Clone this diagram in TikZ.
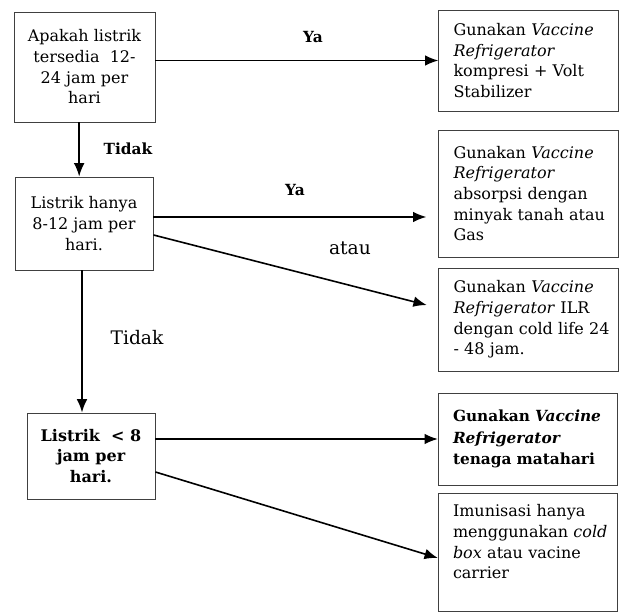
\documentclass[tikz,border=0pt]{standalone}
\usepackage{fontspec}
\setmainfont{DejaVu Serif}
\usetikzlibrary{arrows.meta}

\begin{document}
\begin{tikzpicture}[x=0.75pt,y=-0.75pt,>={Latex[length=10pt,width=8pt]},
        qbox/.style={draw=black!75,line width=0.7pt,align=center,inner sep=0pt,
            font=\fontsize{12}{15.5}\selectfont},
        abox/.style={draw=black!75,line width=0.7pt,align=left,inner ysep=0pt,inner xsep=11pt,
            text width=112.5pt,minimum height=#1,font=\fontsize{12}{15.5}\selectfont},
        arr/.style={->,line width=1.2pt},
        lbl/.style={font=\bfseries\fontsize{11.5}{13}\selectfont},
        lblb/.style={font=\fontsize{14}{16}\selectfont}]
        \useasboundingbox (0,0) rectangle (619,612);
        % pertanyaan
        \node[qbox,minimum width=105.75pt,minimum height=82.5pt] (q1) at (84.5,67)
            {Apakah listrik\\tersedia\ \ 12-\\24 jam per\\hari};
        \node[qbox,minimum width=103.5pt,minimum height=69.75pt] (q2) at (84,223.5)
            {Listrik hanya\\8-12 jam per\\hari.};
        \node[qbox,minimum width=96pt,minimum height=64.5pt,font=\bfseries\fontsize{12}{15.5}\selectfont] (q3) at (91,456)
            {Listrik\ \ < 8\\jam per\\hari.};
        % jawaban
        \node[abox=75.75pt] (r1) at (528.5,60.5)
            {\mbox{Gunakan \textit{Vaccine}}\\\textit{Refrigerator}\\\mbox{kompresi + Volt}\\Stabilizer};
        \node[abox=95.25pt] (r2) at (528.5,193.5)
            {\mbox{Gunakan \textit{Vaccine}}\\\textit{Refrigerator}\\\mbox{absorpsi dengan}\\\mbox{minyak tanah atau}\\Gas};
        \node[abox=77.25pt] (r3) at (528.5,319.5)
            {\mbox{Gunakan \textit{Vaccine}}\\\mbox{\textit{Refrigerator} ILR}\\\mbox{dengan cold life 24}\\- 48 jam.};
        \node[abox=69pt,font=\bfseries\fontsize{11.5}{16}\selectfont] (r4) at (528,439)
            {\mbox{Gunakan \textit{Vaccine}}\\\textit{Refrigerator}\\\mbox{tenaga matahari}};
        \node[abox=88.5pt] (r5) at (528,552)
            {\mbox{Imunisasi hanya}\\\mbox{menggunakan \textit{cold}}\\\mbox{\textit{box} atau vacine}\\carrier\\\mbox{}};
        % panah
        \draw[arr] (q1.east |- r1.west) -- (r1.west);
        \draw[arr] ([xshift=-4pt]q1.south) -- ([xshift=-4pt]q1.south |- q2.north);
        \draw[arr,shorten >=9pt] ([yshift=4.9pt]q2.east) -- ([yshift=4.9pt]q2.east -| r2.west);
        \draw[arr,shorten >=9pt] ([yshift=-8.6pt]q2.east) -- ([yshift=8.6pt]r3.west);
        \draw[arr] ([xshift=-1.5pt]q2.south) -- ([xshift=-1.5pt]q2.south |- q3.north);
        \draw[arr] (q3.east |- r4.west) -- (r4.west);
        \draw[arr] ([yshift=-12pt]q3.east) -- ([yshift=-4.5pt]r5.west);
        % label
        \node[lbl] (ya1) at (313,37) {Ya};
        \node[lbl] (tidak1) at (128,149) {Tidak};
        \node[lbl] (ya2) at (295,190) {Ya};
        \node[lblb] (atau) at (350,248) {atau};
        \node[lblb] (tidak2) at (137,338) {Tidak};
\end{tikzpicture}
\end{document}
